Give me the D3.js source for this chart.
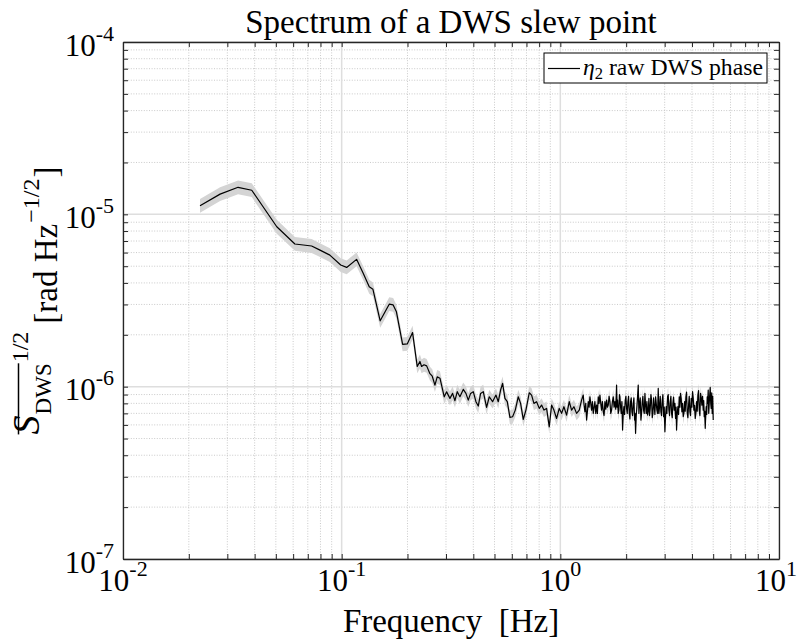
<!DOCTYPE html>
<html><head><meta charset="utf-8">
<script src="https://cdn.jsdelivr.net/npm/d3@7"></script>
<style>
body{margin:0;background:#fff}
text{font-family:"Liberation Serif","Times New Roman",serif;fill:#000}
</style>
</head><body>
<svg id="c" width="798" height="642"></svg>
<script>
// ---------- data ----------
const freqHz = [
// low-frequency part
0.0225,0.0278,0.0336,0.0388,0.0505,0.0611,0.0729,0.0796,0.0883,0.0990,
0.1054,0.1170,0.1256,0.1337,0.1390,0.1500,0.1580,0.1650,0.1720,0.1780,
0.1900,0.1995,0.2110,0.2216,0.2280,0.2320,0.2380,0.2447,0.2533,0.2596,
0.2670,0.2735,0.2815,0.2945,0.3020,
// 0.3 - 1.25 Hz
0.3127,0.3216,0.3296,0.3378,0.3474,0.3598,0.3701,0.3793,0.3887,0.3998,
0.4112,0.4214,0.4319,0.4442,0.4600,0.4731,0.4900,0.5075,0.5202,0.5331,
0.5445,0.5580,0.5719,0.5882,0.6049,0.6222,0.6421,0.6581,0.6768,0.6961,
0.7209,0.7389,0.7572,0.7788,0.8010,0.8209,0.8413,0.8652,0.8899,0.9120,
0.9347,0.9613,0.9887,1.0133,1.0385,1.0681,1.0985,1.1258,1.1538,1.1866,
1.2204,1.2508,
// 1.27 - 1.8 Hz
1.2729,1.2841,1.2955,1.3069,1.3184,1.3300,1.3418,1.3536,1.3655,1.3775,
1.3897,1.4019,1.4143,1.4267,1.4393,1.4520,1.4648,1.4777,1.4908,1.5039,
1.5172,1.5305,1.5440,1.5576,1.5713,1.5852,1.5992,1.6133,1.6275,1.6418,
1.6563,1.6709,1.6856,1.7005,1.7155,1.7306,1.7458,1.7612,1.7767,1.7924,
// 1.8 - 5 Hz
1.8082,1.8177,1.8273,1.8402,1.8531,1.8629,1.8727,1.8859,1.8992,1.9126,
1.9260,1.9396,1.9533,1.9671,1.9809,1.9949,2.0089,2.0231,2.0373,2.0516,
2.0661,2.0806,2.0953,2.1101,2.1249,2.1399,2.1549,2.1701,2.1854,2.1969,
2.2085,2.2240,2.2397,2.2555,2.2714,2.2874,2.3035,2.3197,2.3360,2.3525,
2.3690,2.3857,2.4025,2.4195,2.4365,2.4537,2.4709,2.4883,2.5058,2.5235,
2.5413,2.5592,2.5772,2.5954,2.6136,2.6321,2.6506,2.6693,2.6880,2.7070,
2.7260,2.7452,2.7646,2.7840,2.8036,2.8234,2.8433,2.8633,2.8835,2.9038,
2.9242,2.9448,2.9656,2.9865,3.0075,3.0287,3.0500,3.0715,3.0931,3.1149,
3.1368,3.1589,3.1812,3.2036,3.2261,3.2488,3.2717,3.2948,3.3180,3.3413,
3.3649,3.3826,3.4005,3.4244,3.4486,3.4729,3.4973,3.5220,3.5467,3.5717,
3.5969,3.6222,3.6477,3.6734,3.6993,3.7254,3.7516,3.7780,3.8046,3.8314,
3.8584,3.8856,3.9129,3.9405,3.9683,3.9962,4.0243,4.0527,4.0812,4.1099,
4.1389,4.1680,4.1974,4.2270,4.2568,4.2867,4.3169,4.3473,4.3779,4.4087,
4.4398,4.4711,4.5026,4.5264,4.5503,4.5743,4.5985,4.6227,4.6471,4.6716,
4.6963,4.7211,4.7460,4.7711,4.7963,4.8216,4.8470,4.8726,4.8983,4.9242,
4.9502,4.9763,5.0026
];
// amplitude spectral density in µrad/√Hz (same order as freqHz)
const asdMicroRad = [
11.2,13.1,14.35,13.8,8.47,6.73,6.55,6.2,5.8,5.08,
4.92,5.48,4.54,3.80,3.67,2.41,2.72,3.01,2.98,2.72,
1.76,1.77,2.06,1.31,1.40,1.31,1.34,1.32,1.19,1.15,
1.02,1.14,1.12,0.873,0.933,

0.855,0.914,0.829,0.935,0.874,0.964,0.914,0.836,0.914,0.935,
0.818,0.772,0.914,0.935,0.758,0.874,0.818,0.894,0.818,0.956,
1.045,0.855,0.818,0.663,0.669,0.731,0.874,0.800,0.646,0.731,
0.922,0.894,0.800,0.818,0.748,0.782,0.731,0.748,0.585,0.782,
0.731,0.654,0.748,0.700,0.765,0.684,0.818,0.731,0.765,0.700,
0.731,0.836,

0.894,0.780,0.715,0.800,0.640,0.720,0.818,0.760,0.874,0.800,
0.731,0.820,0.700,0.760,0.818,0.700,0.782,0.700,0.874,0.800,
0.894,0.800,0.731,0.820,0.715,0.680,0.818,0.740,0.836,0.760,
0.782,0.880,0.818,0.700,0.731,0.820,0.874,0.760,0.818,0.740,

1.022,0.760,0.836,0.700,0.731,0.900,0.874,0.760,0.700,0.820,
0.560,0.700,0.765,0.690,0.836,0.880,0.748,0.700,0.818,0.880,
0.700,0.650,0.818,0.860,0.715,0.680,0.800,0.860,0.640,0.700,
0.536,0.680,0.765,0.880,1.022,0.700,0.800,0.860,0.640,0.700,
0.818,0.880,0.731,0.700,0.914,0.780,0.700,0.820,0.684,0.720,
0.855,0.680,0.748,0.900,0.836,0.660,0.700,0.860,0.765,0.690,
0.874,0.800,0.731,0.700,0.977,0.700,0.765,0.880,0.715,0.680,
0.836,0.900,0.669,0.760,0.548,0.680,0.765,0.700,0.874,0.900,
0.731,0.680,0.818,0.880,0.700,0.660,0.800,0.870,0.731,0.800,
0.654,0.760,0.560,0.700,0.765,0.690,0.874,0.760,0.914,0.850,
0.715,0.800,0.669,0.700,0.818,0.720,0.874,0.930,0.700,0.660,
0.782,0.880,0.715,0.680,0.855,0.760,0.935,0.860,0.731,0.780,
0.654,0.700,0.818,0.720,0.894,0.950,0.731,0.680,0.914,0.860,
0.782,0.880,0.731,0.830,0.669,0.720,0.573,0.680,0.765,0.690,
0.874,0.800,0.956,0.700,0.800,0.900,0.990,0.800,0.748,0.920,
0.700,0.880,0.640
];
const bandHalfWidthDex = 0.04;           // shaded uncertainty band, ± in log10 units
const xTickExponents = [-2, -1, 0, 1];
const yTickExponents = [-7, -6, -5, -4];
const titleText = "Spectrum of a DWS slew point";
const xLabelText = "Frequency  [Hz]";
const legendLabel = " raw DWS phase";

// ---------- layout ----------
const svg = d3.select("#c");
const M = {l:123, r:779, t:42, b:559};
const x = d3.scaleLog().domain([1e-2, 1e1]).range([M.l, M.r]);
const y = d3.scaleLog().domain([1e-7, 1e-4]).range([M.b, M.t]);
const axisCol = "#262626";

const n = Math.min(freqHz.length, asdMicroRad.length);
const data = freqHz.slice(0,n).map((f,i)=>({f, v: asdMicroRad[i]*1e-6}));

const xAll = x.ticks();  // 1..9 x each decade
const yAll = y.ticks();
const isMajor = v => Math.abs(Math.log10(v) - Math.round(Math.log10(v))) < 1e-9;

// grid
const grid = svg.append("g");
grid.selectAll(".vx").data(xAll.filter(v=>!isMajor(v))).join("line")
  .attr("x1",d=>x(d)).attr("x2",d=>x(d)).attr("y1",M.t).attr("y2",M.b)
  .attr("stroke","#bdbdbd").attr("stroke-width",0.8).attr("stroke-dasharray","1,1.6");
grid.selectAll(".hy").data(yAll.filter(v=>!isMajor(v))).join("line")
  .attr("y1",d=>y(d)).attr("y2",d=>y(d)).attr("x1",M.l).attr("x2",M.r)
  .attr("stroke","#bdbdbd").attr("stroke-width",0.8).attr("stroke-dasharray","1,1.6");
grid.selectAll(".vxM").data(xAll.filter(isMajor)).join("line")
  .attr("x1",d=>x(d)).attr("x2",d=>x(d)).attr("y1",M.t).attr("y2",M.b)
  .attr("stroke","#dedede").attr("stroke-width",1.5);
grid.selectAll(".hyM").data(yAll.filter(isMajor)).join("line")
  .attr("y1",d=>y(d)).attr("y2",d=>y(d)).attr("x1",M.l).attr("x2",M.r)
  .attr("stroke","#dedede").attr("stroke-width",1.5);

// band
const k = Math.pow(10, bandHalfWidthDex);
svg.append("path").datum(data)
  .attr("d", d3.area().x(d=>x(d.f)).y0(d=>y(d.v/k)).y1(d=>y(d.v*k)))
  .attr("fill","#d4d4d4");
// line
svg.append("path").datum(data)
  .attr("d", d3.line().x(d=>x(d.f)).y(d=>y(d.v)))
  .attr("fill","none").attr("stroke","#000").attr("stroke-width",1.2).attr("stroke-linejoin","round");

// axes (inward ticks on all four sides)
function styleAxis(g){ g.selectAll("path,line").attr("stroke",axisCol); g.select(".domain").attr("stroke-width",1.3); }
svg.append("g").attr("transform",`translate(0,${M.b})`)
  .call(d3.axisBottom(x).tickValues(xAll).tickSizeInner(-5).tickSizeOuter(0).tickFormat("")).call(styleAxis);
svg.append("g").attr("transform",`translate(0,${M.t})`)
  .call(d3.axisTop(x).tickValues(xAll).tickSizeInner(-5).tickSizeOuter(0).tickFormat("")).call(styleAxis);
svg.append("g").attr("transform",`translate(${M.l},0)`)
  .call(d3.axisLeft(y).tickValues(yAll).tickSizeInner(-5).tickSizeOuter(0).tickFormat("")).call(styleAxis);
svg.append("g").attr("transform",`translate(${M.r},0)`)
  .call(d3.axisRight(y).tickValues(yAll).tickSizeInner(-5).tickSizeOuter(0).tickFormat("")).call(styleAxis);

// tick labels with superscripts
function powLabel(sel, e){
  sel.append("tspan").text("10");
  sel.append("tspan").attr("font-size",22).attr("dy",-15).text(String(e));
}
xTickExponents.forEach(e=>{
  const t = svg.append("text").attr("x", x(Math.pow(10,e))).attr("y", 591)
    .attr("text-anchor","middle").attr("font-size",31);
  powLabel(t, e);
  const bb = t.node().getBBox();
  if (bb.x + bb.width > 797) t.attr("x", x(Math.pow(10,e)) - (bb.x + bb.width - 797));
});
yTickExponents.forEach(e=>{
  const t = svg.append("text").attr("x", 114).attr("y", y(Math.pow(10,e))+13.5)
    .attr("text-anchor","end").attr("font-size",31);
  powLabel(t, e);
});

// title & x label
svg.append("text").attr("x",(M.l+M.r)/2).attr("y",33).attr("text-anchor","middle")
  .attr("font-size",33).text(titleText);
svg.append("text").attr("x",(M.l+M.r)/2).attr("y",632).attr("text-anchor","middle")
  .attr("font-size",33).attr("xml:space","preserve").style("white-space","pre").text(xLabelText);

// y label (rotated, built piece by piece)
const yl = svg.append("g");
function piece(txt, size, style, by, x0){
  const t = yl.append("text").attr("x",x0).attr("y",by).attr("font-size",size)
    .attr("font-style",style).text(txt);
  return x0 + t.node().getComputedTextLength();
}
let cx = piece("S",38,"italic",39,0);
const dwsEnd = piece("DWS",23,"normal",51,cx+1);
yl.append("line").attr("x1",0).attr("x2",dwsEnd).attr("y1",18.5).attr("y2",18.5)
  .attr("stroke","#000").attr("stroke-width",1.5);
cx = piece("1/2",24,"normal",28,dwsEnd+1);
cx = piece("[rad Hz",33,"normal",57,cx+8);
cx = piece("\u22121/2",24,"normal",39,cx+1);
cx = piece("]",33,"normal",57,cx+1);
const total = cx;
const centerY = (M.t+M.b)/2;
yl.attr("transform",`translate(0,${centerY+total/2}) rotate(-90)`);

// legend
const lg = svg.append("g");
lg.append("rect").attr("x",544).attr("y",53).attr("width",223).attr("height",30)
  .attr("fill","#fff").attr("stroke","#000").attr("stroke-width",1);
lg.append("line").attr("x1",548).attr("x2",580).attr("y1",68.5).attr("y2",68.5)
  .attr("stroke","#000").attr("stroke-width",1.2);
const lt = lg.append("text").attr("x",583).attr("y",75).attr("font-size",20);
lt.append("tspan").attr("font-style","italic").text("\u03B7");
lt.append("tspan").attr("font-size",14).attr("dy",4).text("2");
lt.append("tspan").attr("dy",-4).text(legendLabel);
const w = lt.node().getComputedTextLength();
lt.attr("font-size", 20*180/w);
lt.selectAll("tspan").filter((d,i)=>i===1).attr("font-size",14*180/w);
</script>
</body></html>
